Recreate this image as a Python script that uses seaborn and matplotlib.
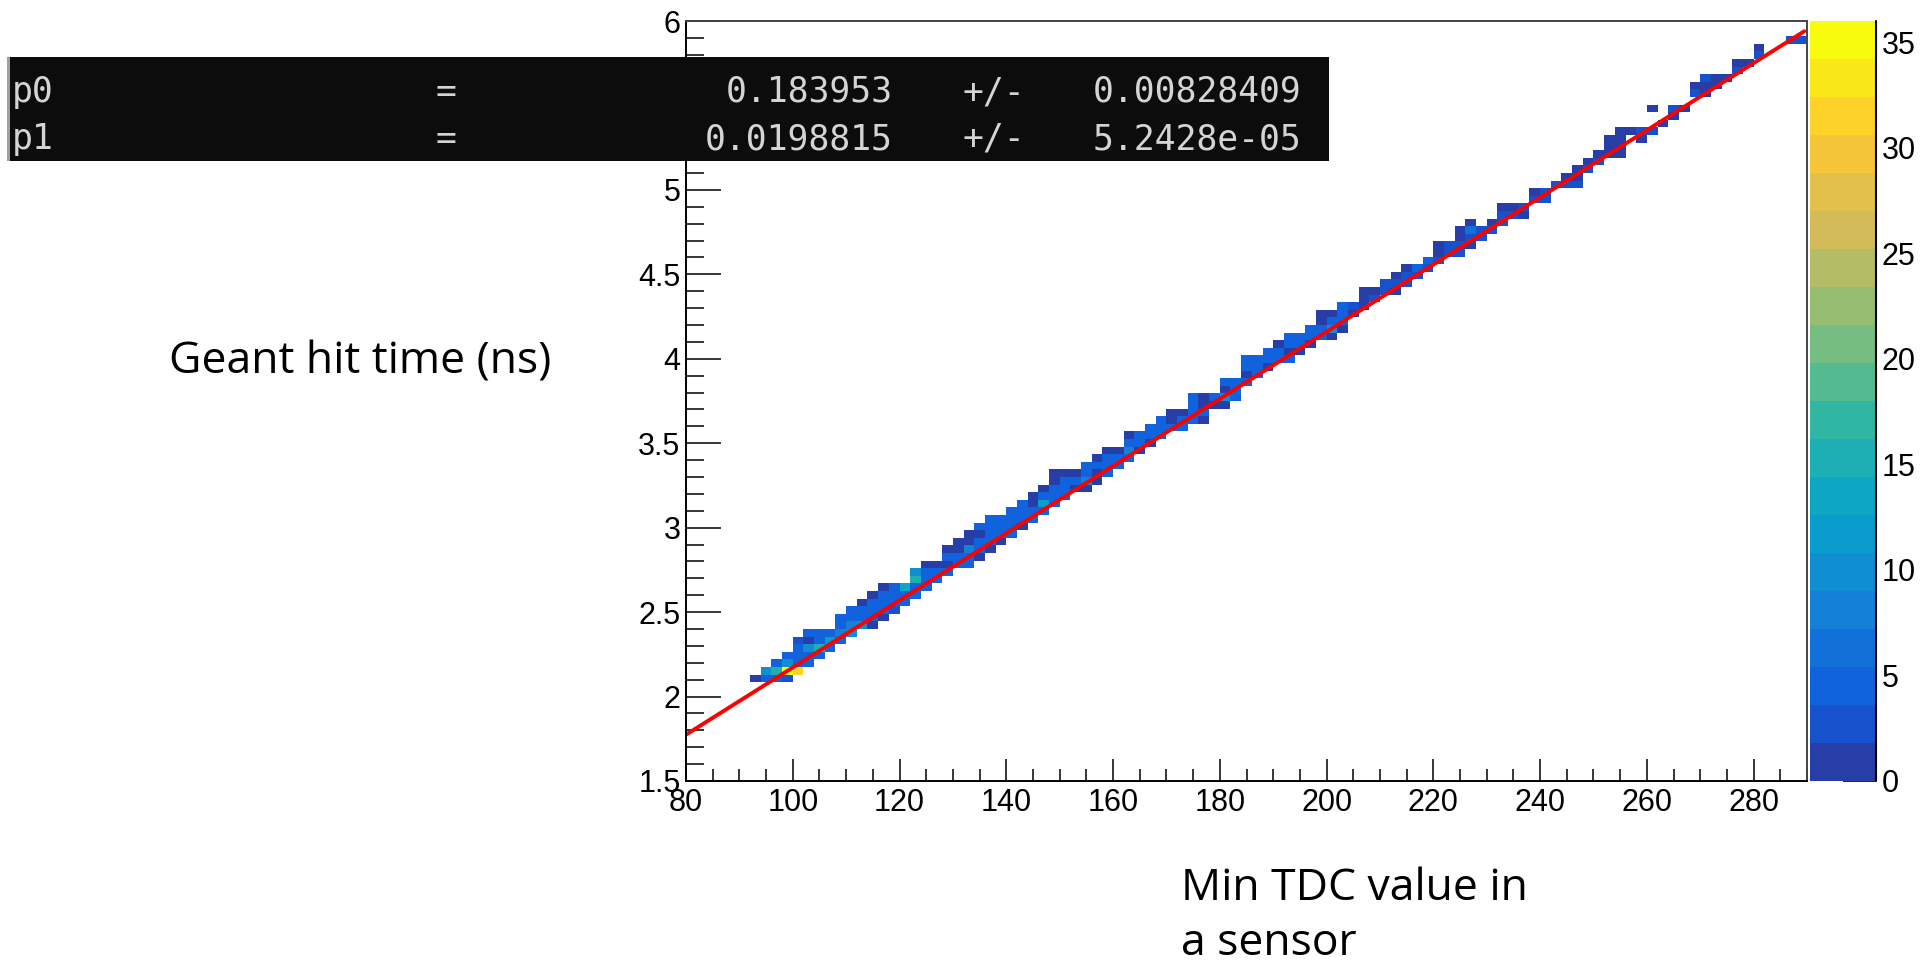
import numpy as np
import matplotlib
matplotlib.use("Agg")
import matplotlib.pyplot as plt
import seaborn as sns
from matplotlib.colors import LinearSegmentedColormap, ListedColormap
from matplotlib.patches import Rectangle
from matplotlib.ticker import MultipleLocator, FuncFormatter

# ---------------- data ----------------
X_MIN, X_MAX, X_BIN = 80, 290, 2
Y_MIN, Y_MAX, Y_BIN = 1.5, 6.0, 0.045

# histogram columns: lower x edge, first y-bin index, counts going upward
COL_X = [92, 94, 96, 98, 100, 102, 104, 106, 108, 110, 112, 114, 116, 118, 120,
         122, 124, 126, 128, 130, 132, 134, 136, 138, 140, 142, 144, 146, 148, 150,
         152, 154, 156, 158, 160, 162, 164, 166, 168, 170, 172, 174, 176, 178, 180,
         182, 184, 186, 188, 190, 192, 194, 196, 198, 200, 202, 204, 206, 208, 210,
         212, 214, 216, 218, 220, 222, 224, 226, 228, 230, 232, 234, 236, 238, 240,
         242, 244, 246, 248, 250, 252, 254, 256, 258, 260, 262, 264, 266, 268, 270,
         272, 274, 276, 278, 280, 286, 288]
COL_J0 = [13, 13, 13, 13, 14, 15, 16, 17, 18, 19, 20, 20, 21, 22, 23,
          24, 25, 26, 27, 28, 28, 29, 30, 31, 32, 33, 34, 35, 36, 37,
          38, 38, 39, 40, 41, 42, 43, 44, 45, 46, 46, 47, 47, 49, 49,
          50, 52, 53, 54, 55, 55, 56, 57, 58, 58, 59, 61, 62, 63, 64,
          64, 65, 66, 67, 68, 69, 69, 70, 71, 72, 73, 74, 74, 76, 76,
          78, 78, 78, 80, 81, 82, 82, 85, 84, 85, 86, 87, 88, 90, 90,
          91, 92, 93, 94, 95, 97, 97]
COL_COUNTS = [
    [1], [4, 9], [4, 15, 5], [3, 35, 9, 4], [31, 5, 4, 4, 3],
    [5, 4, 9, 1, 4], [4, 16, 4, 4], [4, 11, 4], [5, 8, 4, 4], [9, 8, 4, 4],
    [9, 4, 4, 1], [1, 4, 5, 4, 1], [1, 4, 5, 4, 1], [2, 4, 4, 4], [4, 4, 14],
    [4, 4, 16, 9], [4, 4, 4, 1], [4, 4, 1], [4, 1, 4, 1], [4, 4, 1, 1],
    [5, 5, 8, 1, 1], [1, 4, 4, 1, 4], [1, 4, 4, 4, 4], [1, 4, 4, 4], [4, 5, 4, 4],
    [1, 5, 4, 4], [4, 4, 1, 1], [5, 12, 4, 1], [4, 5, 4, 1, 1], [5, 5, 4, 1],
    [1, 5, 1], [1, 8, 5, 4], [1, 1, 5, 1], [4, 4, 5, 1], [4, 4, 1],
    [4, 8, 4, 1], [1, 5, 4], [1, 4, 4], [4, 5, 4], [4, 1, 1],
    [4, 4, 1], [4, 5, 4, 4], [1, 4, 1, 1], [1, 4], [1, 9, 1, 4],
    [4, 4, 4], [4, 1, 4, 4], [4, 4, 4], [1, 4, 4], [4, 4, 1],
    [4, 1, 4, 4], [1, 4, 4], [1, 4, 4], [4, 4, 1, 1], [1, 9, 4, 1],
    [1, 4, 4, 4], [1, 2], [1, 1, 1], [2, 1], [2, 2],
    [1, 2, 1], [2, 3, 1], [2, 5], [2, 5], [2, 1, 1],
    [2, 2], [2, 3, 1, 1], [1, 2, 6, 1], [2, 2], [2, 1],
    [3, 2, 1], [2, 1], [1, 2], [2, 1], [3, 2],
    [2], [3, 1], [2, 1, 1], [2, 1], [2, 1],
    [1, 1, 1], [1, 1, 1, 1], [1], [1, 2], [2, 0, 0, 1],
    [1], [1, 2], [1], [2, 1], [1, 1, 2],
    [1, 1], [1], [2, 1], [1], [2, 1], [3], [3],
]

FIT_P0, FIT_P1 = 0.183953, 0.0198815
FIT_TEXT = [("p0", "0.183953", "0.00828409"), ("p1", "0.0198815", "5.2428e-05")]
FIT_RANGE = (80, 289.5)
Z_MAX = 36
N_CONTOURS = 20
CBAR_TICKS = [0, 5, 10, 15, 20, 25, 30, 35]
YLABEL = "Geant hit time (ns)"
XLABEL_LINES = ["Min TDC value in", "a sensor"]

# ---------------- build weighted samples ----------------
xs, ys, ws = [], [], []
for x0, j0, counts in zip(COL_X, COL_J0, COL_COUNTS):
    for k, c in enumerate(counts):
        if c > 0:
            xs.append(x0 + X_BIN / 2)
            ys.append(Y_MIN + (j0 + k + 0.5) * Y_BIN)
            ws.append(c)
x_edges = np.arange(X_MIN, X_MAX + 0.001, X_BIN)
y_edges = Y_MIN + Y_BIN * np.arange(int(round((Y_MAX - Y_MIN) / Y_BIN)) + 1)

# ROOT kBird palette with 20 contour levels
stops = [0.0, 0.125, 0.25, 0.375, 0.5, 0.625, 0.75, 0.875, 1.0]
red = [0.2082, 0.0592, 0.0780, 0.0232, 0.1802, 0.5301, 0.8186, 0.9956, 0.9764]
green = [0.1664, 0.3599, 0.5041, 0.6419, 0.7178, 0.7492, 0.7328, 0.7862, 0.9832]
blue = [0.5293, 0.8684, 0.8385, 0.7914, 0.6425, 0.4662, 0.3499, 0.1968, 0.0539]
bird = LinearSegmentedColormap.from_list("bird", list(zip(stops, zip(red, green, blue))))
band_colors = [bird(int((i + 0.99) * 255 / N_CONTOURS) / 254.0) for i in range(N_CONTOURS)]
cmap = ListedColormap(band_colors)

# ---------------- figure ----------------
sns.set_style("white")
plt.rcParams["font.family"] = ["Liberation Sans", "DejaVu Sans"]
plt.rcParams["text.color"] = "black"
plt.rcParams["xtick.color"] = "black"
plt.rcParams["ytick.color"] = "black"
plt.rcParams["axes.labelcolor"] = "black"
W, H = 1921, 960
fig = plt.figure(figsize=(W / 100, H / 100), dpi=100)
ax = fig.add_axes([686 / W, 1 - 781 / H, (1807 - 686) / W, (781 - 21) / H])
cax = fig.add_axes([1810 / W, 1 - 781 / H, (1876 - 1810) / W, (781 - 21) / H])

sns.histplot(x=xs, y=ys, weights=ws, bins=[x_edges, y_edges], cmap=cmap,
             vmin=0, vmax=Z_MAX, thresh=0, cbar=True, cbar_ax=cax, ax=ax)

xf = np.linspace(FIT_RANGE[0], FIT_RANGE[1], 400)
sns.lineplot(x=xf, y=FIT_P0 + FIT_P1 * xf, color="#ff0000", lw=2.8, ax=ax)

ax.set_xlim(X_MIN, X_MAX)
ax.set_ylim(Y_MIN, Y_MAX)
ax.set_xlabel("")
ax.set_ylabel("")
ax.xaxis.set_major_locator(MultipleLocator(20))
ax.xaxis.set_minor_locator(MultipleLocator(5))
ax.yaxis.set_major_locator(MultipleLocator(0.5))
ax.yaxis.set_minor_locator(MultipleLocator(0.1))
ax.yaxis.set_major_formatter(FuncFormatter(lambda v, p: f"{v:g}"))
ax.tick_params(axis="x", which="major", direction="in", length=16, width=1.1,
               labelsize=22, pad=5, bottom=True, top=False, color="black",
               labelcolor="black")
ax.tick_params(axis="x", which="minor", direction="in", length=9, width=1.1,
               bottom=True, top=False, color="black")
ax.tick_params(axis="y", which="major", direction="in", length=25, width=1.1,
               labelsize=22, pad=4, left=True, right=False, color="black",
               labelcolor="black")
ax.tick_params(axis="y", which="minor", direction="in", length=13, width=1.1,
               left=True, right=False, color="black")
for side, sp in ax.spines.items():
    sp.set_visible(True)
    sp.set_color("black" if side in ("left", "bottom") else "#444444")
    sp.set_linewidth(1.4)
ax.grid(False)

cbar = ax.collections[0].colorbar
cbar.set_ticks(CBAR_TICKS)
cbar.outline.set_visible(False)
cax.minorticks_off()
cax.tick_params(axis="y", direction="in", length=24, width=1.2, labelsize=22,
                pad=4, right=True, left=False, color="black", labelcolor="black")
cax.plot([1, 1], [0, 1], transform=cax.transAxes, color="black", lw=1.5, clip_on=False)

# axis label texts (placed like slide annotations)
lab_font = ["Open Sans", "DejaVu Sans"]
fig.text(169 / W, 1 - 362 / H, YLABEL, fontsize=32, family=lab_font,
         color="black", ha="left", va="center")
fig.text(1181 / W, 1 - 900 / H, XLABEL_LINES[0], fontsize=32, family=lab_font,
         color="black", ha="left", va="baseline")
fig.text(1181 / W, 1 - 955 / H, XLABEL_LINES[1], fontsize=32, family=lab_font,
         color="black", ha="left", va="baseline")

# black fit-result box
fig.add_artist(Rectangle((7 / W, 1 - 161 / H), (1329 - 7) / W, (161 - 57) / H,
                         transform=fig.transFigure, facecolor="#0c0c0c",
                         edgecolor="none", zorder=20))
fig.add_artist(Rectangle((7 / W, 1 - 161 / H), 2.5 / W, (161 - 57) / H,
                         transform=fig.transFigure, facecolor="#a0a0a0",
                         edgecolor="none", zorder=21))
mono = ["DejaVu Sans Mono"]
tcol = "#d4d4d4"
for (name, val, err), base in zip(FIT_TEXT, [102, 149]):
    yy = 1 - base / H
    kw = dict(fontsize=25, family=mono, color=tcol, va="baseline", zorder=22)
    fig.text(12 / W, yy, name, ha="left", **kw)
    fig.text(446 / W, yy, "=", ha="center", **kw)
    fig.text(893 / W, yy, val, ha="right", **kw)
    fig.text(962 / W, yy, "+/-", ha="left", **kw)
    fig.text(1093 / W, yy, err, ha="left", **kw)

fig.savefig("out.png", dpi=100, facecolor="white")
